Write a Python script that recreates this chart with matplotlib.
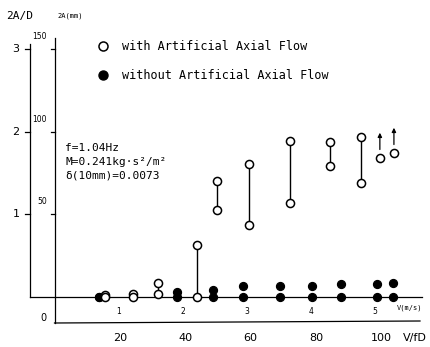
'''
Vibration amplitude vs reduced velocity, with / without artificial axial flow
'''
import matplotlib.pyplot as plt
from matplotlib.lines import Line2D

# open circles: amplitude range (top / bottom) at each reduced velocity
with_vfd = [15.3, 24.0, 31.7, 43.6, 49.7, 59.5, 72.0, 84.3, 93.7]
with_top = [0.02, 0.04, 0.17, 0.63, 1.40, 1.61, 1.89, 1.87, 1.94]
with_bottom = [0.0, 0.0, 0.04, 0.0, 1.05, 0.87, 1.14, 1.58, 1.38]
# open circles whose amplitude kept growing (arrow up)
arrow_vfd = [99.5, 103.8]
arrow_za = [1.68, 1.74]
# filled circles
without_vfd = [13.6, 37.5, 48.4, 57.7, 69.0, 78.6, 87.5, 98.5, 103.6]
without_top = [0.0, 0.06, 0.085, 0.13, 0.13, 0.13, 0.16, 0.16, 0.17]
without_bottom = [0.0, 0.0, 0.0, 0.0, 0.0, 0.0, 0.0, 0.0, 0.0]

vfd_ticks = [20, 40, 60, 80, 100]
v_ticks = [1, 2, 3, 4, 5]
za_ticks = [1, 2, 3]
amp_ticks = ['50', '100', '150']
V_TO_VFD = 19.6

MONO = 'DejaVu Sans Mono'


def px(x):
    '''pixel column -> V/fD'''
    return (x - 54.5) / 3.27


def py(y):
    '''pixel row -> 2A/D'''
    return (297 - y) / 82.7


fig = plt.figure(figsize=(4.3, 3.47), dpi=100)
ax = fig.add_axes([0, 0, 1, 1])
ax.set_xlim(px(0), px(430))
ax.set_ylim(py(347), py(0))
ax.axis('off')

line_kw = dict(color='black', lw=0.9)

# left 2A/D axis and baseline
ax.plot([px(30), px(30)], [0, py(44)], **line_kw)
ax.plot([px(30), px(422)], [0, 0], **line_kw)
for t in za_ticks:
    ax.plot([px(25), px(30)], [t, t], **line_kw)
    ax.text(px(16), t, str(t), ha='center', va='center', fontsize=8)

# 2A(mm) axis
ax.plot([0, 0], [py(323), py(38)], **line_kw)
for t, lab in zip(za_ticks, amp_ticks):
    ax.plot([px(51), 0], [t, t], **line_kw)
    ax.text(px(47), t + 0.15, lab, ha='right', va='center', fontsize=5.5)

# bottom V/fD axis
ax.plot([0, px(420)], [py(323), py(321)], **line_kw)
for t in vfd_ticks:
    ax.text(t * 1.0, py(338), str(t), ha='center', va='center', fontsize=8)
ax.text(px(403), py(338), 'V/fD', ha='left', va='center', fontsize=8)
ax.text(px(43), py(318), '0', ha='center', va='center', fontsize=7)

# V (m/s) labels under the baseline
for t in v_ticks:
    ax.text(t * V_TO_VFD, py(312), str(t), ha='center', va='center',
            fontsize=5.5)
ax.text(px(397), py(308), 'V(m/s)', ha='left', va='center', fontsize=5,
        family=MONO)

# axis titles
ax.text(px(6), py(16), '2A/D', ha='left', va='center', fontsize=8,
        family=MONO)
ax.text(px(57), py(16), '2A(mm)', ha='left', va='center', fontsize=5,
        family=MONO)

# data
ax.vlines(with_vfd, with_bottom, with_top, color='black', lw=1, zorder=1)
mk_open = dict(marker='o', s=34, facecolors='white', edgecolors='black',
               linewidths=1.1, zorder=3)
mk_fill = dict(marker='o', s=32, color='black', zorder=3)
ax.scatter(without_vfd, without_top, **mk_fill)
ax.scatter(without_vfd, without_bottom, **mk_fill)
ax.scatter(with_vfd, with_top, **mk_open)
ax.scatter(with_vfd, with_bottom, **mk_open)
ax.scatter(arrow_vfd, arrow_za, **mk_open)
for x, z in zip(arrow_vfd, arrow_za):
    ax.annotate('', xy=(x, z + 0.34), xytext=(x, z + 0.07),
                arrowprops=dict(arrowstyle='-|>', lw=0.9, color='black',
                                mutation_scale=6))

# conditions
ax.text(px(65), py(148), 'f=1.04Hz', fontsize=8, family=MONO, va='center')
ax.text(px(65), py(162), 'M=0.241kg·s²/m²', fontsize=8, family=MONO,
        va='center')
ax.text(px(65), py(176), 'δ(10mm)=0.0073', fontsize=8, family=MONO,
        va='center')

handles = [
    Line2D([], [], ls='none', marker='o', ms=6.5, mfc='white', mec='black',
           mew=1.1),
    Line2D([], [], ls='none', marker='o', ms=6.5, color='black'),
]
ax.legend(handles, ['with Artificial Axial Flow',
                    'without Artificial Axial Flow'],
          loc='upper left', bbox_to_anchor=(98 / 430, 1 - 40 / 347),
          frameon=False, handlelength=0.8, handletextpad=1.2,
          labelspacing=1.35, borderpad=0, borderaxespad=0,
          prop=dict(family=MONO, size=8.5))

fig.savefig('out.png', dpi=100)
